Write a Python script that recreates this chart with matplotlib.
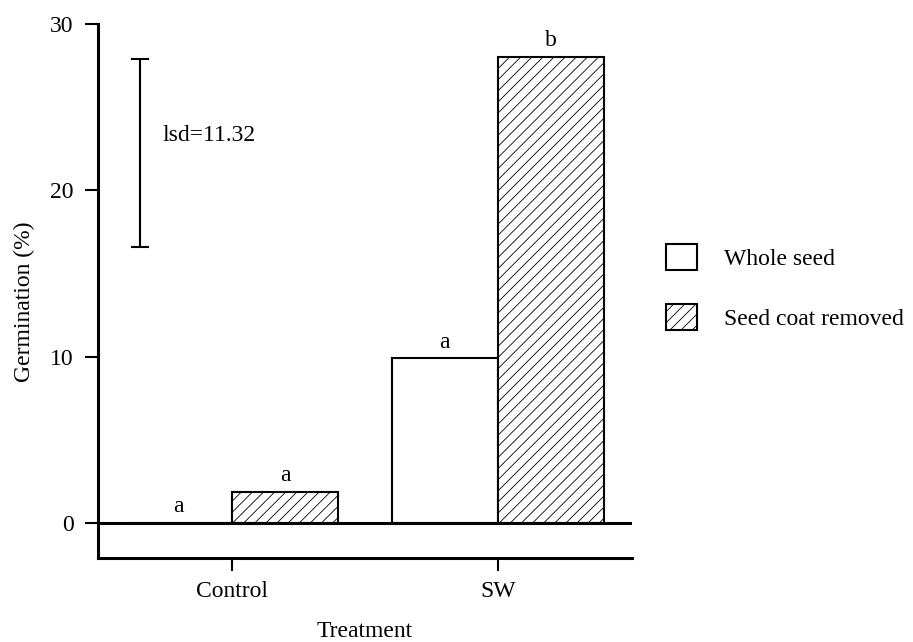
import numpy as np
import matplotlib.pyplot as plt
from matplotlib.patches import Patch

plt.rcParams['font.family'] = ['Liberation Serif', 'DejaVu Serif']
plt.rcParams['font.size'] = 17
plt.rcParams['hatch.linewidth'] = 0.6
plt.rcParams['hatch.color'] = '#333333'

treatments = ['Control', 'SW']
whole_seed = [0.0, 9.9]
coat_removed = [1.85, 28.0]
whole_letters = ['a', 'a']
removed_letters = ['a', 'b']
lsd = 11.32
lsd_center = 22.25

fig = plt.figure(figsize=(9.13, 6.42), dpi=100)
ax = fig.add_axes([98/913, 1 - 558/642, 534/913, 534/642])

x = np.arange(len(treatments))
w = 0.4
ax.bar(x - w/2, whole_seed, w, color='white', edgecolor='black', linewidth=1.5)
ax.bar(x + w/2, coat_removed, w, color='white', edgecolor='black', linewidth=1.5, hatch='///')
ax.axhline(0, color='black', linewidth=2.2)

for i in range(len(treatments)):
    ax.text(x[i] - w/2, whole_seed[i] + 0.65, whole_letters[i], ha='center', va='baseline')
    ax.text(x[i] + w/2, coat_removed[i] + 0.65, removed_letters[i], ha='center', va='baseline')

ax.errorbar([-0.346], [lsd_center], yerr=lsd/2, color='black', linewidth=1.5,
            capsize=6.3, capthick=1.5)
ax.text(-0.263, 23.27, 'lsd=%.2f' % lsd, ha='left', va='center')

ax.set_xlim(-0.504, 1.504)
ax.set_ylim(-2.1, 30)
ax.set_xticks(x)
ax.set_xticklabels(treatments)
ax.set_yticks([0, 10, 20, 30])

for s in ['top', 'right']:
    ax.spines[s].set_visible(False)
for s in ['left', 'bottom']:
    ax.spines[s].set_linewidth(2.2)
ax.tick_params(axis='both', width=1.5, length=9.5, direction='out')
ax.tick_params(axis='y', pad=8)
ax.tick_params(axis='x', pad=7)

ax.set_xlabel('Treatment')
ax.set_ylabel('Germination (%)')
ax.xaxis.set_label_coords(0.5, -0.118)
ax.yaxis.set_label_coords(-0.118, 0.48)

handles = [Patch(facecolor='white', edgecolor='black', linewidth=1.5, label='Whole seed'),
           Patch(facecolor='white', edgecolor='black', linewidth=1.5, hatch='///', label='Seed coat removed')]
fig.legend(handles=handles, loc='upper left', bbox_to_anchor=(666/913, 1 - 244/642),
           frameon=False, borderpad=0, borderaxespad=0, handlelength=1.3, handleheight=1.3,
           handletextpad=1.15, labelspacing=1.45)

fig.savefig('out.png', dpi=100)
